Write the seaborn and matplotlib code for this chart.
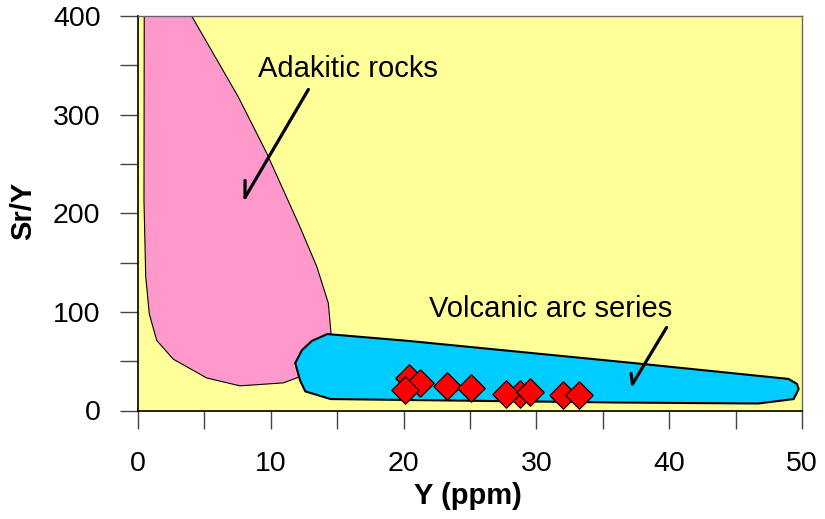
import matplotlib
matplotlib.use("Agg")
import matplotlib.pyplot as plt
from matplotlib.ticker import MultipleLocator
import seaborn as sns
import pandas as pd

# Sample analyses: Y (ppm) and Sr/Y ratio
y_ppm = [20.4, 21.2, 20.1, 23.3, 25.1, 28.8, 27.7, 29.5, 32.0, 33.2]
sr_y = [33, 28, 21, 25, 23, 17, 17, 19, 16, 16]

# Outline of the adakitic field
adakite_x = [0.47, 4.04, 7.55, 9.69, 12.20, 13.46, 14.33, 14.53, 14.08, 11.95,
             10.94, 7.68, 5.17, 2.66, 1.41, 0.85, 0.58, 0.45]
adakite_y = [400, 400, 318, 261, 186, 146, 109, 79, 51, 33,
             28, 25, 33, 52, 71, 98, 136, 213]

# Outline of the normal volcanic arc field
arc_x = [14.25, 20.33, 37.32, 48.99, 49.62, 49.75, 49.37, 46.71, 36.05, 14.50,
         12.60, 12.21, 11.84, 12.34, 13.10]
arc_y = [77.5, 70.6, 48.1, 32.0, 26.9, 21.8, 11.6, 7.1, 8.1, 11.6,
         19.4, 30.3, 48.1, 61.1, 70.6]

x_ticks = [0, 10, 20, 30, 40, 50]
y_ticks = [0, 100, 200, 300, 400]

sns.set_style("ticks")
plt.rcParams["font.family"] = ["Liberation Sans", "DejaVu Sans"]
plt.rcParams["text.color"] = "black"
plt.rcParams["axes.labelcolor"] = "black"

fig = plt.figure(figsize=(8.25, 5.19), dpi=100)
ax = fig.add_axes([138 / 825, 1 - 410.5 / 519, 664 / 825, 394.5 / 519])
ax.set_facecolor("#FFFF99")

ax.fill(adakite_x, adakite_y, facecolor="#FF99CC", edgecolor="black",
        linewidth=0.8, zorder=1)
ax.fill(arc_x, arc_y, facecolor="#00CCFF", edgecolor="black",
        linewidth=1.5, zorder=2)

df = pd.DataFrame({"Y": y_ppm, "SrY": sr_y})
sns.scatterplot(data=df, x="Y", y="SrY", marker="D", s=195, color="#FF0000",
                edgecolor="black", linewidth=0.9, ax=ax, zorder=3, legend=False)

ax.set_xlim(0, 50)
ax.set_ylim(0, 400)
ax.set_xticks(x_ticks)
ax.set_yticks(y_ticks)
ax.xaxis.set_minor_locator(MultipleLocator(5))
ax.yaxis.set_minor_locator(MultipleLocator(50))
ax.tick_params(which="both", direction="out", length=13, width=1,
               color="#444444", labelcolor="black", labelsize=20.5, pad=14)
ax.tick_params(axis="x", which="both", pad=16)

for side in ["left", "bottom"]:
    ax.spines[side].set_color("black")
    ax.spines[side].set_linewidth(1.2)
for side in ["top", "right"]:
    ax.spines[side].set_color("#666666")
    ax.spines[side].set_linewidth(1.0)
    ax.spines[side].set_visible(True)

ax.set_xlabel("Y (ppm)", fontsize=21, fontweight="bold", color="black")
ax.set_ylabel("Sr/Y", fontsize=21, fontweight="bold", color="black")
ax.xaxis.label.set_va("center")
ax.xaxis.set_label_coords(0.4965, -0.2167)
ax.yaxis.label.set_va("center")
ax.yaxis.set_label_coords(-0.1732, 0.507)

# Field labels with pointer arrows
ax.text(9.06, 337.7, "Adakitic rocks", fontsize=21, ha="left", va="baseline",
        color="black", zorder=5)
ax.text(21.93, 95.1, "Volcanic arc series", fontsize=21, ha="left",
        va="baseline", color="black", zorder=5)

line_style = dict(arrowstyle="-", lw=2.3, color="black", shrinkA=0, shrinkB=0,
                  capstyle="round")
ax.annotate("", xy=(8.06, 216), xytext=(12.83, 325.5), arrowprops=line_style,
            zorder=5)
ax.annotate("", xy=(8.06, 216), xytext=(0, 12.2), textcoords="offset points",
            arrowprops=line_style, zorder=5)
ax.annotate("", xy=(37.24, 26.9), xytext=(39.80, 84.1), arrowprops=line_style,
            zorder=5)
ax.annotate("", xy=(37.24, 26.9), xytext=(-1.1, 7.6), textcoords="offset points",
            arrowprops=line_style, zorder=5)

fig.savefig("out.png", dpi=100)
